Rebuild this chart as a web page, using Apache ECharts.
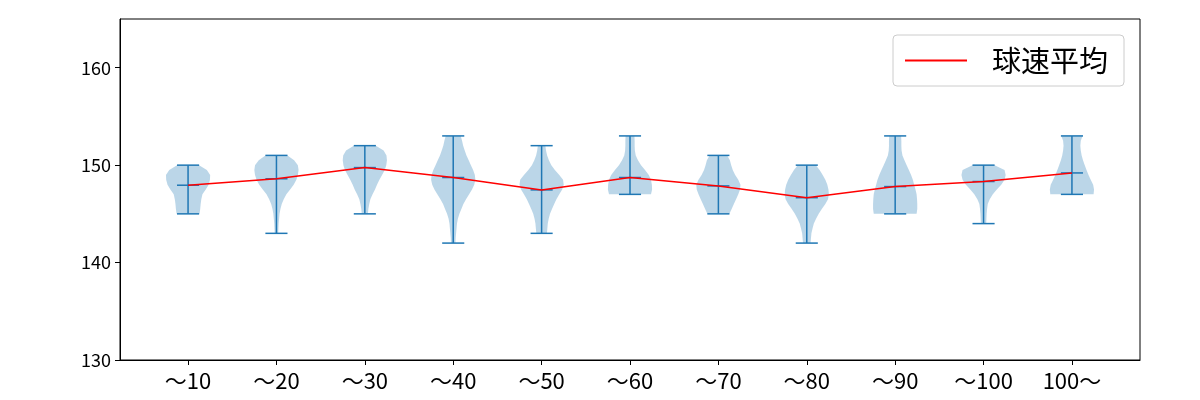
<!DOCTYPE html>
<html>
<head>
<meta charset="utf-8">
<script src="https://cdn.jsdelivr.net/npm/echarts@6/dist/echarts.min.js"></script>
<style>html,body{margin:0;padding:0;background:#fff}#c{width:1200px;height:400px}</style>
</head>
<body>
<div id="c"></div>
<script>
const categories = ['～10','～20','～30','～40','～50','～60','～70','～80','～90','～100','100～'];
const means = [147.94,148.6,149.75,148.73,147.46,148.73,147.87,146.66,147.8,148.32,149.2];
const mins = [145,143,145,142,143,147,145,142,145,144,147];
const maxs = [150,151,152,153,152,153,151,150,153,150,153];
// relative half-widths of each violin, sampled every 0.5 km/h from min to max
const violinStep = 0.5;
const violinWidths = [
  [0.52,0.55,0.57,0.6,0.65,0.8,0.93,0.99,1.0,0.85,0.5],
  [0.08,0.09,0.1,0.12,0.14,0.18,0.24,0.33,0.45,0.62,0.78,0.9,0.97,1.0,0.97,0.8,0.5],
  [0.14,0.16,0.2,0.25,0.35,0.46,0.55,0.66,0.78,0.9,0.97,1.0,0.98,0.85,0.5],
  [0.1,0.11,0.13,0.15,0.17,0.21,0.28,0.37,0.46,0.58,0.72,0.85,0.95,1.0,0.98,0.9,0.8,0.7,0.6,0.52,0.45,0.4,0.34],
  [0.24,0.26,0.28,0.32,0.38,0.47,0.57,0.67,0.8,0.93,1.0,0.97,0.8,0.6,0.44,0.33,0.25,0.2,0.17],
  [0.95,1.0,0.99,0.95,0.85,0.68,0.5,0.36,0.26,0.22,0.21,0.21,0.2],
  [0.5,0.6,0.7,0.8,0.9,0.98,1.0,0.9,0.76,0.65,0.58,0.52,0.4],
  [0.17,0.19,0.21,0.26,0.32,0.42,0.54,0.68,0.84,0.96,1.0,0.98,0.93,0.84,0.72,0.58,0.41],
  [0.97,1.0,1.0,0.99,0.97,0.92,0.86,0.8,0.72,0.62,0.52,0.42,0.33,0.29,0.28,0.28,0.27],
  [0.12,0.13,0.14,0.16,0.19,0.28,0.42,0.6,0.8,0.95,1.0,0.95,0.5],
  [0.98,1.0,0.96,0.85,0.75,0.66,0.58,0.5,0.44,0.4,0.38,0.4,0.48]
];
const yTicks = [130,140,150,160];
const seriesName = '球速平均';

const FONT = '"Noto Sans CJK JP", "Noto Sans", sans-serif';
const BLUE = '#1f77b4';
const positions = categories.map((c, i) => i + 1);

const chart = echarts.init(document.getElementById('c'), null, {renderer: 'canvas'});

function renderViolin(params, api) {
  const i = params.dataIndex;
  const pos = positions[i];
  const w = violinWidths[i];
  const right = [], left = [];
  for (let k = 0; k < w.length; k++) {
    const v = mins[i] + k * violinStep;
    right.push(api.coord([pos + w[k] * 0.25, v]));
    left.push(api.coord([pos - w[k] * 0.25, v]));
  }
  const pts = right.concat(left.reverse());
  const top = api.coord([pos, maxs[i]]);
  const bot = api.coord([pos, mins[i]]);
  const mean = api.coord([pos, means[i]]);
  const half = api.size([0.125, 0])[0];
  const ls = {stroke: BLUE, lineWidth: 1.5};
  return {
    type: 'group',
    children: [
      {type: 'polygon', shape: {points: pts}, style: {fill: 'rgba(31,119,180,0.3)', stroke: null}},
      {type: 'line', shape: {x1: top[0], y1: top[1], x2: bot[0], y2: bot[1]}, style: ls},
      {type: 'line', shape: {x1: top[0] - half, y1: top[1], x2: top[0] + half, y2: top[1]}, style: ls},
      {type: 'line', shape: {x1: bot[0] - half, y1: bot[1], x2: bot[0] + half, y2: bot[1]}, style: ls},
      {type: 'line', shape: {x1: mean[0] - half, y1: mean[1], x2: mean[0] + half, y2: mean[1]}, style: ls}
    ]
  };
}

const option = {
  animation: false,
  backgroundColor: '#fff',
  grid: {left: 120, right: 60, top: 19, bottom: 40, show: true, borderColor: '#000', borderWidth: 1, backgroundColor: 'transparent'},
  legend: {
    left: 893, top: 35,
    padding: [11, 16, 11, 12],
    borderColor: '#cccccc', borderWidth: 1, borderRadius: 4,
    backgroundColor: 'rgba(255,255,255,0.8)',
    itemWidth: 62, itemHeight: 2,
    data: [{name: seriesName, icon: 'rect'}],
    textStyle: {fontSize: 29, fontFamily: FONT, color: '#000', padding: [0, 0, 0, 20]}
  },
  xAxis: {
    type: 'value', min: 0.23, max: 11.77,
    axisLine: {show: true, lineStyle: {color: '#000', width: 1}},
    axisTick: {show: true, length: 5, lineStyle: {color: '#000'}, customValues: positions},
    axisLabel: {fontSize: 22, fontFamily: FONT, color: '#000', margin: 10, customValues: positions,
      formatter: v => categories[Math.round(v) - 1] || ''},
    splitLine: {show: false}
  },
  yAxis: {
    type: 'value', min: 130, max: 165, interval: 10,
    axisLine: {show: true, lineStyle: {color: '#000', width: 1}},
    axisTick: {show: true, length: 5, lineStyle: {color: '#000'}, customValues: yTicks},
    axisLabel: {fontSize: 18, fontFamily: FONT, color: '#000', margin: 9, customValues: yTicks},
    splitLine: {show: false}
  },
  series: [
    {
      type: 'custom', name: 'violin',
      renderItem: renderViolin,
      data: positions.map((p, i) => [p, means[i]]),
      encode: {x: 0, y: 1},
      z: 2
    },
    {
      type: 'line', name: seriesName,
      data: positions.map((p, i) => [p, means[i]]),
      symbol: 'none',
      lineStyle: {color: '#ff0000', width: 1.5},
      itemStyle: {color: '#ff0000'},
      z: 3
    }
  ]
};
chart.setOption(option);
</script>
</body>
</html>
